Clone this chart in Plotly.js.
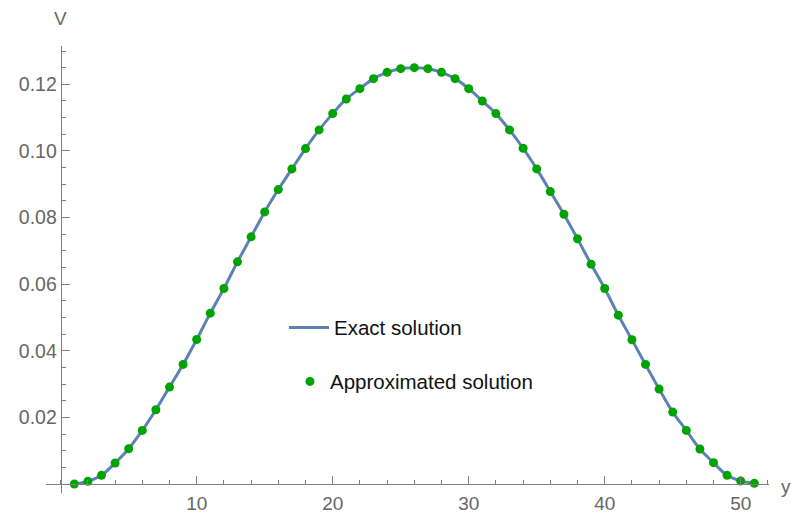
<!DOCTYPE html>
<html>
<head>
<meta charset="utf-8">
<script src="https://cdn.plot.ly/plotly-3.0.1.min.js"></script>
<style>html,body{margin:0;padding:0;background:#fff;}#chart{width:791px;height:514px;}</style>
</head>
<body>
<div id="chart"></div>
<script>
// Node index y (1..51)
const nodes = [1,2,3,4,5,6,7,8,9,10,11,12,13,14,15,16,17,18,19,20,21,22,23,24,25,26,
  27,28,29,30,31,32,33,34,35,36,37,38,39,40,41,42,43,44,45,46,47,48,49,50,51];
// Approximated solution V
const approxV = [0.0000,0.0008,0.0026,0.0063,0.0106,0.0161,0.0223,0.0291,0.0359,0.0434,
  0.0513,0.0587,0.0667,0.0742,0.0817,0.0884,0.0946,0.1007,0.1063,0.1112,
  0.1156,0.1187,0.1217,0.1236,0.1247,0.1250,0.1247,0.1236,0.1217,0.1187,
  0.1150,0.1112,0.1063,0.1008,0.0946,0.0878,0.0810,0.0736,0.0660,0.0587,
  0.0507,0.0433,0.0359,0.0285,0.0216,0.0161,0.0105,0.0064,0.0026,0.0009,0.0002];
// Exact solution (drawn as a smooth curve through the same nodes)
const exactY = nodes;
const exactV = approxV;
const xTicks = [10,20,30,40,50];
const yTicks = [0.02,0.04,0.06,0.08,0.10,0.12];

const axisColor = '#7f7f7f';
const labelColor = '#666666';
const font = 'Liberation Sans, Arial, sans-serif';

const xRange = [-1.08, 52.08];
const yRange = [-0.0027, 0.1315];

const traces = [
  {x: exactY, y: exactV, type: 'scatter', mode: 'lines', name: 'Exact solution',
   line: {color: '#5E81B5', width: 3, shape: 'spline', smoothing: 1}, legend: 'legend'},
  {x: nodes, y: approxV, type: 'scatter', mode: 'markers', name: 'Approximated solution',
   marker: {color: '#00A300', size: 9}, cliponaxis: false, legend: 'legend2'}
];

const layout = {
  width: 791, height: 514,
  margin: {l: 46, r: 22, t: 46, b: 21},
  paper_bgcolor: '#fff', plot_bgcolor: '#fff',
  font: {family: font, size: 19, color: labelColor},
  showlegend: true,
  xaxis: {
    range: xRange, domain: [0, 1], anchor: 'free',
    position: (0 - yRange[0]) / (yRange[1] - yRange[0]),
    showline: true, linecolor: axisColor, linewidth: 1,
    showgrid: false, zeroline: false,
    tickmode: 'array', tickvals: xTicks,
    ticks: 'inside', ticklen: 8, tickcolor: axisColor, tickwidth: 1,
    ticklabelstandoff: 2,
    minor: {dtick: 2, tick0: 0, ticks: 'inside', ticklen: 4.5, tickcolor: axisColor, tickwidth: 1, showgrid: false},
    tickfont: {family: font, size: 19, color: labelColor}
  },
  yaxis: {
    range: yRange, domain: [0, 1], anchor: 'free',
    position: (0 - xRange[0]) / (xRange[1] - xRange[0]),
    showline: true, linecolor: axisColor, linewidth: 1,
    showgrid: false, zeroline: false,
    tickmode: 'array', tickvals: yTicks, tickformat: '.2f',
    ticks: 'inside', ticklen: 8, tickcolor: axisColor, tickwidth: 1,
    minor: {dtick: 0.005, tick0: 0, ticks: 'inside', ticklen: 4.5, tickcolor: axisColor, tickwidth: 1, showgrid: false},
    tickfont: {family: font, size: 19.5, color: labelColor}
  },
  legend: {x: (284 - 46) / 723, y: (493 - 321) / 447 + 0.03, xanchor: 'left', yanchor: 'top',
    bgcolor: 'rgba(0,0,0,0)', borderwidth: 0, itemwidth: 40,
    font: {family: font, size: 20.5, color: '#111'}},
  legend2: {x: (290 - 46) / 723, y: (493 - 375) / 447 + 0.03, xanchor: 'left', yanchor: 'top',
    bgcolor: 'rgba(0,0,0,0)', borderwidth: 0,
    font: {family: font, size: 20.5, color: '#111'}},
  annotations: [
    {text: 'V', xref: 'x', x: 0, yref: 'paper', y: (493 - 19) / 447, xanchor: 'center', yanchor: 'middle',
     showarrow: false, font: {family: font, size: 19, color: labelColor}},
    {text: 'y', xref: 'paper', x: (779 - 46) / 723, yref: 'y', y: 0, xanchor: 'left', yanchor: 'middle',
     yshift: -2, showarrow: false, font: {family: font, size: 19, color: labelColor}}
  ]
};

Plotly.newPlot('chart', traces, layout, {displayModeBar: false, staticPlot: true});
</script>
</body>
</html>
